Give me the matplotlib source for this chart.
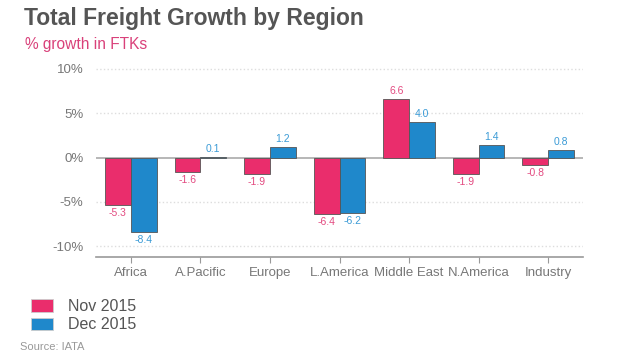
import numpy as np
import matplotlib.pyplot as plt
from matplotlib.patches import Patch

plt.rcParams['font.family'] = ['Liberation Sans', 'DejaVu Sans']

regions = ['Africa', 'A.Pacific', 'Europe', 'L.America', 'Middle East', 'N.America', 'Industry']
nov_2015 = [-5.3, -1.6, -1.9, -6.4, 6.6, -1.9, -0.8]
dec_2015 = [-8.4, 0.1, 1.2, -6.2, 4.0, 1.4, 0.8]
y_ticks = [-10, -5, 0, 5, 10]

pink = '#ea2d6c'
blue = '#1f88cb'
pink_txt = '#e34a80'
blue_txt = '#3b9bd6'

fig = plt.figure(figsize=(6.2, 3.55), dpi=100)
ax = fig.add_axes([96 / 620, 1 - 257 / 355, (583 - 96) / 620, (257 - 66) / 355])

x = np.arange(len(regions))
w = 0.37
b1 = ax.bar(x - w / 2, nov_2015, w, color=pink, edgecolor='#555555', linewidth=0.6, zorder=3)
b2 = ax.bar(x + w / 2, dec_2015, w, color=blue, edgecolor='#555555', linewidth=0.6, zorder=3)

# value labels above / below each bar
for bars, vals, c in [(b1, nov_2015, pink_txt), (b2, dec_2015, blue_txt)]:
    for r, v in zip(bars, vals):
        cx = r.get_x() + r.get_width() / 2
        if v >= 0:
            ax.text(cx, v + 0.35, '%.1f' % v, ha='center', va='bottom', fontsize=7.5, color=c)
        else:
            ax.text(cx, v - 0.35, '%.1f' % v, ha='center', va='top', fontsize=7.5, color=c)

ax.set_xlim(-0.5, len(regions) - 0.5)
ax.set_ylim(-11.2, 10.3)
ax.set_yticks(y_ticks)
ax.set_yticklabels(['%d%%' % t for t in y_ticks], fontsize=9.5, color='#777777')
ax.set_xticks(x)
ax.set_xticklabels(regions, fontsize=9.5, color='#777777')
ax.tick_params(axis='y', length=0, pad=9)
ax.tick_params(axis='x', length=4, color='#999999', pad=3)

for t in y_ticks:
    if t != 0:
        ax.axhline(t, color='#dddddd', linestyle=':', linewidth=1, zorder=1)
ax.axhline(0, color='#aaaaaa', linewidth=1.2, zorder=2)

for s in ['top', 'right', 'left']:
    ax.spines[s].set_visible(False)
ax.spines['bottom'].set_color('#999999')
ax.spines['bottom'].set_linewidth(1.2)

fig.text(24 / 620, 1 - 18 / 355, 'Total Freight Growth by Region', fontsize=16.5,
         fontweight='bold', color='#555555', va='center', ha='left')
fig.text(25 / 620, 1 - 45 / 355, '% growth in FTKs', fontsize=11.2, color='#d9417a',
         va='center', ha='left')

handles = [Patch(facecolor=pink, edgecolor='#cccccc', linewidth=0.6),
           Patch(facecolor=blue, edgecolor='#cccccc', linewidth=0.6)]
fig.legend(handles, ['Nov 2015', 'Dec 2015'], loc='upper left',
           bbox_to_anchor=(31 / 620, 1 - 299 / 355), frameon=False, fontsize=11.5,
           labelcolor='#555555', handlelength=1.35, handleheight=0.8,
           handletextpad=0.95, labelspacing=0.2, borderpad=0, borderaxespad=0)

fig.text(20 / 620, 1 - 347 / 355, 'Source: IATA', fontsize=8, color='#999999',
         va='center', ha='left')

fig.savefig('out.png', dpi=100)
